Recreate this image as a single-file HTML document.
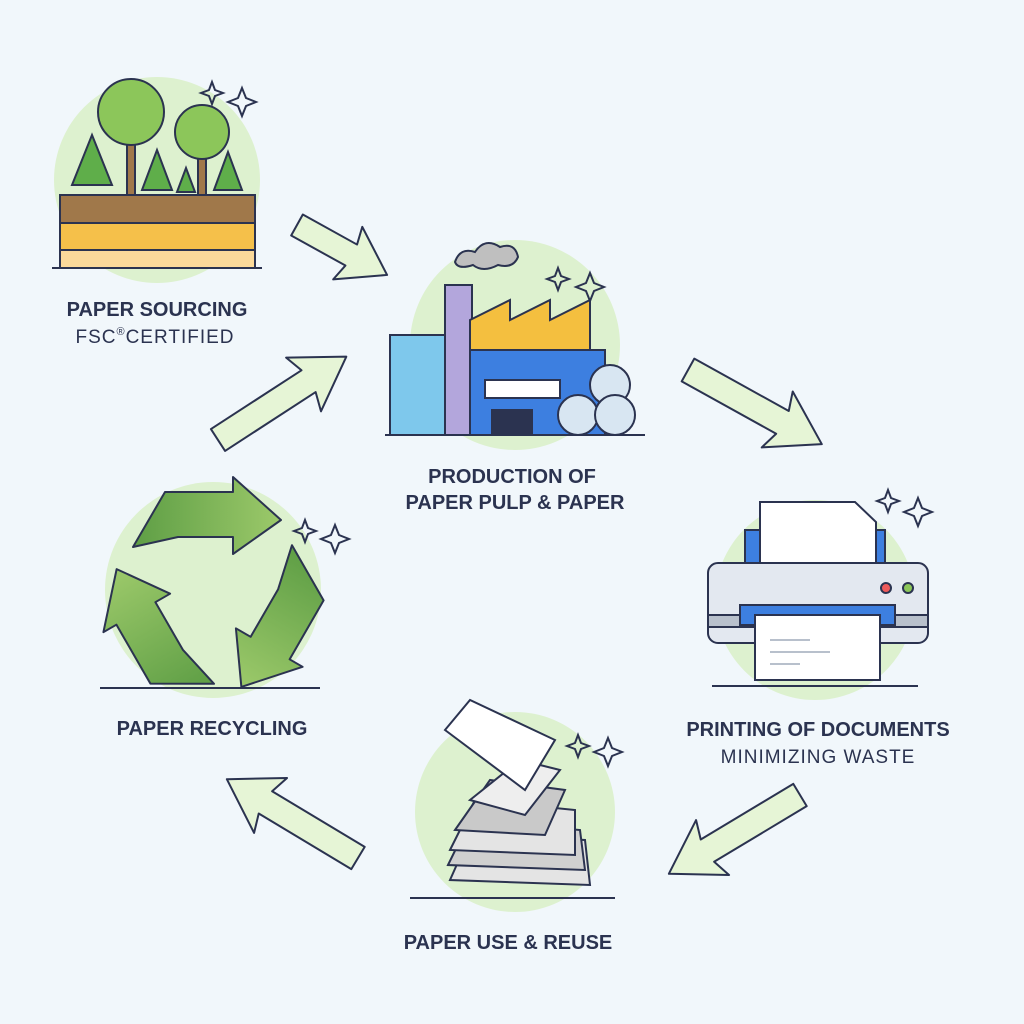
<!DOCTYPE html>
<html><head><meta charset="utf-8"><style>
html,body{margin:0;padding:0;background:#f1f7fb;}
svg{display:block}
text{font-family:"Liberation Sans",sans-serif;fill:#2b3350;text-anchor:middle}
.b{font-weight:bold;font-size:20px}
.r{font-size:19px;letter-spacing:1px}
</style></head><body>
<svg width="1024" height="1024" viewBox="0 0 1024 1024" xmlns="http://www.w3.org/2000/svg">
<defs><linearGradient id="g" x1="0" y1="0" x2="1" y2="0"><stop offset="0" stop-color="#5e9e45"/><stop offset="1" stop-color="#9cc96a"/></linearGradient></defs>
<rect width="1024" height="1024" fill="#f1f7fb"/>
<g fill="#ddf1cf">
<circle cx="157" cy="180" r="103"/>
<circle cx="515" cy="345" r="105"/>
<circle cx="815" cy="600" r="100"/>
<circle cx="515" cy="812" r="100"/>
<circle cx="213" cy="590" r="108"/>
</g>
<g fill="#e6f5d6" stroke="#2b3350" stroke-width="2" stroke-linejoin="round">
<path transform="translate(297,225) rotate(29)" d="M0,-12 L62,-12 L58,-30 L103,0 L58,30 L62,12 L0,12 Z"/>
<path transform="translate(688,370) rotate(29)" d="M0,-13 L108,-13 L102,-32 L153,0 L102,32 L108,13 L0,13 Z"/>
<path transform="translate(800,795) rotate(149)" d="M0,-13 L108,-13 L102,-32 L153,0 L102,32 L108,13 L0,13 Z"/>
<path transform="translate(358,858) rotate(211)" d="M0,-13 L108,-13 L102,-32 L153,0 L102,32 L108,13 L0,13 Z"/>
<path transform="translate(218,440) rotate(-33)" d="M0,-13 L108,-13 L102,-32 L153,0 L102,32 L108,13 L0,13 Z"/>
</g>
<g stroke="#2b3350" stroke-width="2">
<rect x="60" y="195" width="195" height="28" fill="#a0784a"/>
<rect x="60" y="223" width="195" height="27" fill="#f5c04a"/>
<rect x="60" y="250" width="195" height="18" fill="#fbd99a"/>
<line x1="52" y1="268" x2="262" y2="268"/>
<rect x="127" y="120" width="8" height="75" fill="#a0784a"/>
<circle cx="131" cy="112" r="33" fill="#8cc65a"/>
<rect x="198" y="140" width="8" height="55" fill="#a0784a"/>
<circle cx="202" cy="132" r="27" fill="#8cc65a"/>
<path d="M92,135 L72,185 L112,185 Z" fill="#5fae4a"/>
<path d="M157,150 L142,190 L172,190 Z" fill="#5fae4a"/>
<path d="M186,168 L177,192 L195,192 Z" fill="#5fae4a"/>
<path d="M228,152 L214,190 L242,190 Z" fill="#5fae4a"/>
</g>
<g fill="none" stroke="#2b3350" stroke-width="2">
<path d="M212,82 l3,8 8,3 -8,3 -3,8 -3,-8 -8,-3 8,-3 z"/>
<path d="M242,88 l4,10 10,4 -10,4 -4,10 -4,-10 -10,-4 10,-4 z"/>
<path d="M558,268 l3,8 8,3 -8,3 -3,8 -3,-8 -8,-3 8,-3 z"/>
<path d="M590,273 l4,10 10,4 -10,4 -4,10 -4,-10 -10,-4 10,-4 z"/>
<path d="M888,490 l3,8 8,3 -8,3 -3,8 -3,-8 -8,-3 8,-3 z"/>
<path d="M918,498 l4,10 10,4 -10,4 -4,10 -4,-10 -10,-4 10,-4 z"/>
<path d="M578,735 l3,8 8,3 -8,3 -3,8 -3,-8 -8,-3 8,-3 z"/>
<path d="M608,738 l4,10 10,4 -10,4 -4,10 -4,-10 -10,-4 10,-4 z"/>
<path d="M305,520 l3,8 8,3 -8,3 -3,8 -3,-8 -8,-3 8,-3 z"/>
<path d="M335,525 l4,10 10,4 -10,4 -4,10 -4,-10 -10,-4 10,-4 z"/>
</g>
<g stroke="#2b3350" stroke-width="2">
<path d="M455,262 q5,-15 20,-10 q10,-15 25,-5 q15,-5 18,10 q-5,12 -20,8 q-15,8 -25,0 q-15,5 -18,-3z" fill="#bfbfbf"/>
<rect x="390" y="335" width="55" height="100" fill="#7ec8ec"/>
<rect x="445" y="285" width="27" height="150" fill="#b3a6dc"/>
<path d="M470,350 L470,320 L510,300 L510,320 L550,300 L550,320 L590,300 L590,350 Z" fill="#f4bf3f"/>
<rect x="470" y="350" width="135" height="85" fill="#3d7fe0"/>
<rect x="485" y="380" width="75" height="18" fill="#fff"/>
<rect x="492" y="410" width="40" height="25" fill="#2b3350"/>
<circle cx="610" cy="385" r="20" fill="#d8e6f2"/>
<circle cx="578" cy="415" r="20" fill="#d8e6f2"/>
<circle cx="615" cy="415" r="20" fill="#d8e6f2"/>
<line x1="385" y1="435" x2="645" y2="435"/>
</g>
<g stroke="#2b3350" stroke-width="2">
<rect x="745" y="530" width="140" height="40" fill="#3d7fe0"/>
<path d="M760,502 L855,502 L876,522 L876,565 L760,565 Z" fill="#fff"/>
<rect x="708" y="563" width="220" height="80" rx="10" fill="#e3e8f0"/>
<rect x="708" y="615" width="220" height="12" fill="#b8c0cc"/>
<rect x="740" y="605" width="155" height="20" fill="#3d7fe0"/>
<rect x="755" y="615" width="125" height="65" fill="#fff"/>
<g stroke="#b8c0cc"><line x1="770" y1="640" x2="810" y2="640"/><line x1="770" y1="652" x2="830" y2="652"/><line x1="770" y1="664" x2="800" y2="664"/></g>
<circle cx="886" cy="588" r="5" fill="#ee5a5a"/>
<circle cx="908" cy="588" r="5" fill="#8cc65a"/>
<line x1="712" y1="686" x2="918" y2="686"/>
</g>
<g stroke="#2b3350" stroke-width="2">
<path d="M450,880 L470,835 L585,840 L590,885 Z" fill="#e4e4e4"/>
<path d="M448,865 L470,820 L580,830 L585,870 Z" fill="#d0d0d0"/>
<path d="M450,850 L475,800 L575,810 L575,855 Z" fill="#e4e4e4"/>
<path d="M455,830 L490,780 L565,790 L545,835 Z" fill="#c9c9c9"/>
<path d="M470,800 L520,760 L560,770 L525,815 Z" fill="#eee"/>
<path d="M445,730 L470,700 L555,740 L525,790 Z" fill="#fff"/>
<line x1="410" y1="898" x2="615" y2="898"/>
</g>
<g stroke="#2b3350" stroke-width="2" fill="url(#g)" stroke-linejoin="round" transform="translate(213,592)">
<path d="M-80,-45 L-48,-100 L20,-100 L20,-115 L68,-72 L20,-38 L20,-55 L-35,-55 Z"/>
<path transform="rotate(120)" d="M-80,-45 L-48,-100 L20,-100 L20,-115 L68,-72 L20,-38 L20,-55 L-35,-55 Z"/>
<path transform="rotate(240)" d="M-80,-45 L-48,-100 L20,-100 L20,-115 L68,-72 L20,-38 L20,-55 L-35,-55 Z"/>
</g>
<line x1="100" y1="688" x2="320" y2="688" stroke="#2b3350" stroke-width="2"/>
<text class="b" x="157" y="316">PAPER SOURCING</text>
<text class="r" x="155" y="343">FSC<tspan font-size="11" dy="-8">®</tspan><tspan dy="8">CERTIFIED</tspan></text>
<text class="b" x="512" y="483">PRODUCTION OF</text>
<text class="b" x="515" y="509">PAPER PULP &amp; PAPER</text>
<text class="b" x="818" y="736">PRINTING OF DOCUMENTS</text>
<text class="r" x="818" y="763">MINIMIZING WASTE</text>
<text class="b" x="508" y="949">PAPER USE &amp; REUSE</text>
<text class="b" x="212" y="735">PAPER RECYCLING</text>
</svg>
</body></html>
